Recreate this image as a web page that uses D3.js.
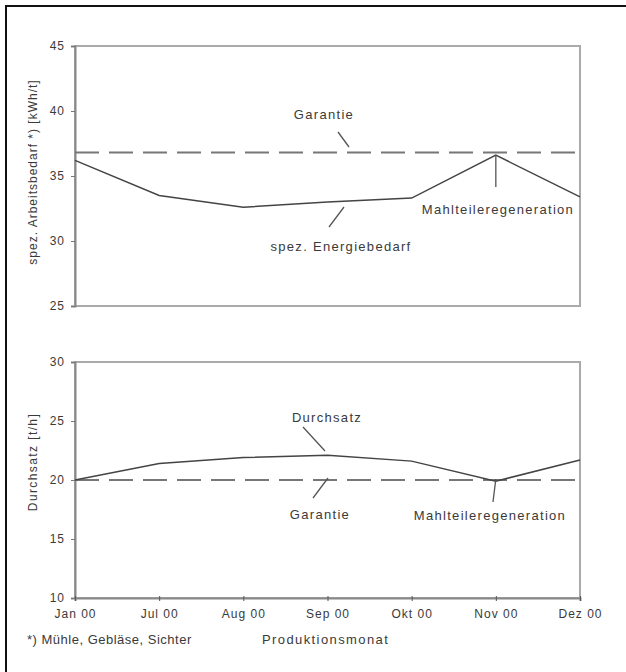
<!DOCTYPE html>
<html>
<head>
<meta charset="utf-8">
<script src="https://cdn.jsdelivr.net/npm/d3@7"></script>
<style>
  body { margin: 0; background: #fff; }
  text { font-family: "Liberation Sans", Arial, sans-serif; fill: #3a3a3a; }
</style>
</head>
<body>
<div id="chart"></div>
<script>
// Daten
var monate = ["Jan 00", "Jul 00", "Aug 00", "Sep 00", "Okt 00", "Nov 00", "Dez 00"]
var energiebedarf = [36.2, 33.5, 32.6, 33.0, 33.3, 36.6, 33.4]
var garantieEnergie = 36.8
var durchsatz = [20.0, 21.4, 21.9, 22.1, 21.6, 19.9, 21.7]
var garantieDurchsatz = 20
var ticksOben = [25, 30, 35, 40, 45]
var ticksUnten = [10, 15, 20, 25, 30]

var width = 626
var height = 672

var svg = d3.select("#chart")
  .append("svg")
    .attr("width", width)
    .attr("height", height)

// Rahmen
svg.append("rect")
  .attr("x", 6).attr("y", 6)
  .attr("width", 640).attr("height", 700)
  .attr("fill", "none")
  .attr("stroke", "#111")
  .attr("stroke-width", 2)

var x = d3.scalePoint()
  .domain(monate)
  .range([75, 580])

var yOben = d3.scaleLinear().domain([25, 45]).range([306, 46])
var yUnten = d3.scaleLinear().domain([10, 30]).range([598, 362])

function panel(y, ticks, werte, garantie, zeigeX) {
  var g = svg.append("g")
  // Plotrahmen
  g.append("rect")
    .attr("x", x.range()[0]).attr("y", y.range()[1])
    .attr("width", x.range()[1] - x.range()[0])
    .attr("height", y.range()[0] - y.range()[1])
    .attr("fill", "none")
    .attr("stroke", "#aaa")
    .attr("stroke-width", 2)

  // y-Achse
  var ay = g.append("g")
    .attr("transform", "translate(" + x.range()[0] + ",0)")
    .call(d3.axisLeft(y).tickValues(ticks).tickSize(4).tickPadding(6))
  ay.select(".domain").attr("stroke", "#888").attr("stroke-width", 2)
  ay.selectAll(".tick line").attr("stroke", "#777")
  ay.selectAll("text").style("font-size", "12px").style("letter-spacing", "1px").attr("fill", "#444")

  if (zeigeX) {
    var ax = g.append("g")
      .attr("transform", "translate(0," + y.range()[0] + ")")
      .call(d3.axisBottom(x).tickSize(3).tickPadding(8))
    ax.select(".domain").attr("stroke", "#888").attr("stroke-width", 2)
    ax.selectAll(".tick line").attr("stroke", "#555").attr("y1", -2)
    ax.selectAll("text").style("font-size", "12px").style("letter-spacing", "1px").attr("fill", "#444")
  }

  // Garantie (gestrichelt)
  g.append("line")
    .attr("x1", x.range()[0]).attr("x2", x.range()[1])
    .attr("y1", y(garantie)).attr("y2", y(garantie))
    .attr("stroke", "#777")
    .attr("stroke-width", 2)
    .attr("stroke-dasharray", "24,10")

  // Messwerte
  var line = d3.line()
    .x(function(d, i) { return x(monate[i]) })
    .y(function(d) { return y(d) })
  g.append("path")
    .datum(werte)
    .attr("d", line)
    .attr("fill", "none")
    .attr("stroke", "#444")
    .attr("stroke-width", 1.5)
  return g
}

panel(yOben, ticksOben, energiebedarf, garantieEnergie, false)
panel(yUnten, ticksUnten, durchsatz, garantieDurchsatz, true)

// Beschriftungen mit Hinweislinien
function notiz(text, tx, ty, x1, y1, x2, y2) {
  svg.append("line")
    .attr("x1", x1).attr("y1", y1).attr("x2", x2).attr("y2", y2)
    .attr("stroke", "#555").attr("stroke-width", 1.3)
  svg.append("text")
    .attr("x", tx).attr("y", ty)
    .attr("text-anchor", "middle")
    .style("font-size", "13px")
    .style("letter-spacing", "1.3px")
    .text(text)
}

var nov = x("Nov 00")
notiz("Garantie", 324, 119, 338, 132, 349, 147)
notiz("spez. Energiebedarf", 341, 251, 344, 207, 329, 227)
notiz("Mahlteileregeneration", 498, 214, nov, yOben(energiebedarf[5]), nov, 187)
notiz("Durchsatz", 327, 422, 303, 427, 325, 451)
notiz("Garantie", 320, 519, 328, 478, 313, 498)
notiz("Mahlteileregeneration", 490, 520, nov, 479, 493, 502)

// Achsentitel
svg.append("text")
  .attr("transform", "translate(37,172) rotate(-90)")
  .attr("text-anchor", "middle")
  .style("font-size", "12px")
  .style("letter-spacing", "1px")
  .text("spez. Arbeitsbedarf *) [kWh/t]")

svg.append("text")
  .attr("transform", "translate(37,462) rotate(-90)")
  .attr("text-anchor", "middle")
  .style("font-size", "12px")
  .style("letter-spacing", "1.4px")
  .text("Durchsatz [t/h]")

// Fußzeile
svg.append("text")
  .attr("x", 27).attr("y", 644)
  .style("font-size", "13px")
  .style("letter-spacing", "0.5px")
  .text("*) Mühle, Gebläse, Sichter")

svg.append("text")
  .attr("x", 262).attr("y", 644)
  .style("font-size", "13px")
  .style("letter-spacing", "1.4px")
  .text("Produktionsmonat")
</script>
</body>
</html>
